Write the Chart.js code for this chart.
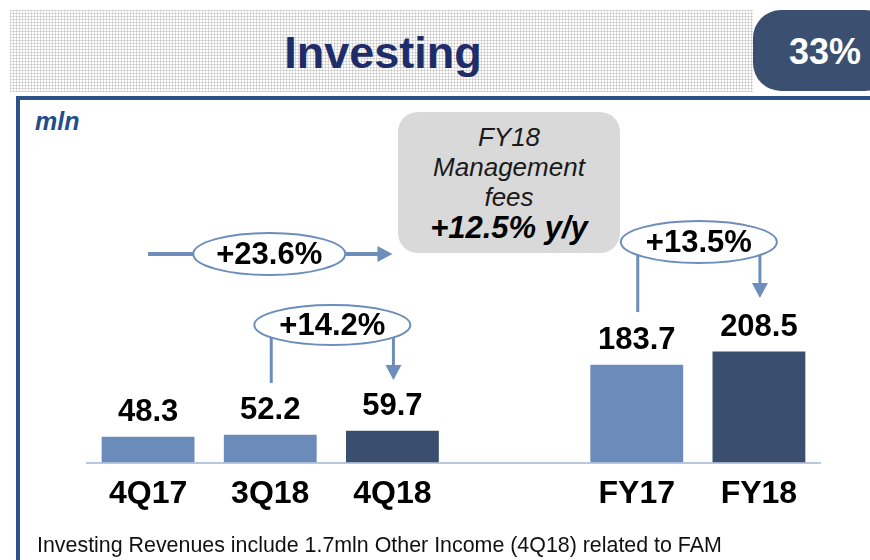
<!DOCTYPE html>
<html>
<head>
<meta charset="utf-8">
<script src="https://cdn.jsdelivr.net/npm/chart.js@4/dist/chart.umd.min.js"></script>
<style>
  html, body { margin: 0; padding: 0; background: #fff; }
  body { width: 870px; height: 560px; position: relative; overflow: hidden; font-family: "Liberation Sans", Arial, sans-serif; }
  #header {
    position: absolute; left: 10px; top: 10px; width: 743px; height: 82px;
    background-color: #fff;
    background-image:
      repeating-linear-gradient(0deg, rgba(170,170,170,0.4) 0 1px, transparent 1px 3px),
      repeating-linear-gradient(90deg, rgba(170,170,170,0.4) 0 1px, transparent 1px 3px);
  }
  #title {
    position: absolute; left: 10px; top: 12px; width: 746px; height: 82px;
    line-height: 82px; text-align: center; font-weight: bold; font-size: 45px; color: #1f2c6a;
  }
  #badge {
    position: absolute; left: 753px; top: 10px; width: 140px; height: 81px; border-radius: 28px;
    background: #3b5070; color: #fff; font-weight: bold; font-size: 36px; line-height: 83px;
  }
  #badge span { position: absolute; left: 36px; }
  #frameTop { position: absolute; left: 16px; top: 96px; width: 860px; height: 4px; background: #2c5288; }
  #frameLeft { position: absolute; left: 16px; top: 96px; width: 4px; height: 470px; background: #2c5288; }
  #mln { position: absolute; left: 35px; top: 107px; font-weight: bold; font-style: italic; font-size: 25px; color: #1f4e8c; }
  #note { position: absolute; left: 37px; top: 533px; font-size: 21.4px; color: #111; white-space: nowrap; }
  #gbox {
    position: absolute; left: 398px; top: 112px; width: 222px; height: 141px; border-radius: 20px;
    background: #d9d9d9; text-align: center; color: #1a1a1a;
  }
  #gbox .l { font-style: italic; font-size: 26px; line-height: 30px; }
  #gbox .b { font-style: italic; font-weight: bold; font-size: 31px; line-height: 32px; color: #000; }
  canvas { position: absolute; left: 0; top: 0; }
</style>
</head>
<body>
<div id="header"></div>
<div id="title">Investing</div>
<div id="badge"><span>33%</span></div>
<div id="frameTop"></div>
<div id="frameLeft"></div>
<div id="mln">mln</div>
<canvas id="c" width="870" height="560"></canvas>
<div id="gbox"><div style="height:10px"></div><div class="l">FY18</div><div class="l">Management</div><div class="l">fees</div><div class="b">+12.5% y/y</div></div>
<div id="note">Investing Revenues include 1.7mln Other Income (4Q18) related to FAM</div>
<script>
const categories = ['4Q17', '3Q18', '4Q18', '', 'FY17', 'FY18'];
const revenues = [48.3, 52.2, 59.7, null, 183.7, 208.5];
const valueLabels = ['48.3', '52.2', '59.7', '', '183.7', '208.5'];
const barColors = ['#6b8cba', '#6b8cba', '#3a4f6f', '#ffffff', '#6b8cba', '#3a4f6f'];
const changeLabels = ['+23.6%', '+14.2%', '+13.5%'];

const LINE = '#6d8ebb';

function ellipse(ctx, cx, cy, rx, ry, text) {
  ctx.save();
  ctx.beginPath();
  ctx.ellipse(cx, cy, rx, ry, 0, 0, Math.PI * 2);
  ctx.fillStyle = '#fff';
  ctx.fill();
  ctx.lineWidth = 2;
  ctx.strokeStyle = LINE;
  ctx.stroke();
  ctx.fillStyle = '#000';
  ctx.font = 'bold 31px "Liberation Sans", Arial, sans-serif';
  ctx.textAlign = 'center';
  ctx.textBaseline = 'middle';
  ctx.fillText(text, cx, cy + 1);
  ctx.restore();
}
function vline(ctx, x, y1, y2, w) {
  ctx.save();
  ctx.strokeStyle = LINE; ctx.lineWidth = w;
  ctx.beginPath(); ctx.moveTo(x, y1); ctx.lineTo(x, y2); ctx.stroke();
  ctx.restore();
}
function downArrow(ctx, x, y1, tip) {
  vline(ctx, x, y1, tip - 13, 3);
  ctx.save();
  ctx.fillStyle = LINE;
  ctx.beginPath(); ctx.moveTo(x - 8, tip - 15); ctx.lineTo(x + 8, tip - 15); ctx.lineTo(x, tip); ctx.closePath(); ctx.fill();
  ctx.restore();
}

const overlay = {
  id: 'overlay',
  afterDatasetsDraw(chart) {
    const ctx = chart.ctx;
    const meta = chart.getDatasetMeta(0);
    ctx.save();
    ctx.font = 'bold 31px "Liberation Sans", Arial, sans-serif';
    ctx.fillStyle = '#000';
    ctx.textAlign = 'center';
    ctx.textBaseline = 'middle';
    meta.data.forEach((bar, i) => {
      if (revenues[i] == null) return;
      ctx.fillText(valueLabels[i], bar.x, bar.y - 24);
    });
    ctx.restore();

    const x = i => meta.data[i].x;
    // +23.6% : 4Q17 -> 4Q18
    const y0 = 254;
    ctx.save();
    ctx.strokeStyle = LINE; ctx.lineWidth = 4;
    ctx.beginPath(); ctx.moveTo(x(0), y0); ctx.lineTo(x(2) - 13, y0); ctx.stroke();
    ctx.fillStyle = LINE;
    ctx.beginPath(); ctx.moveTo(x(2) - 15, y0 - 8); ctx.lineTo(x(2) - 15, y0 + 8); ctx.lineTo(x(2), y0); ctx.closePath(); ctx.fill();
    ctx.restore();
    ellipse(ctx, (x(0) + x(2)) / 2 - 1, y0, 76, 21, changeLabels[0]);

    // +14.2% : 3Q18 -> 4Q18
    const y1 = 325;
    vline(ctx, x(1) + 1, y1, 383, 3);
    downArrow(ctx, x(2) + 1, y1, 380);
    ellipse(ctx, (x(1) + x(2)) / 2 + 1, y1, 78, 20, changeLabels[1]);

    // +13.5% : FY17 -> FY18
    const y2 = 242;
    vline(ctx, x(4) + 1, y2, 312, 3);
    downArrow(ctx, x(5) + 1, y2, 298);
    ellipse(ctx, (x(4) + x(5)) / 2 + 1, y2, 78, 21, changeLabels[2]);
  }
};

new Chart(document.getElementById('c'), {
  type: 'bar',
  data: {
    labels: categories,
    datasets: [{
      data: revenues,
      backgroundColor: barColors,
      borderWidth: 0,
      categoryPercentage: 1,
      barPercentage: 0.76
    }]
  },
  options: {
    responsive: false,
    animation: false,
    layout: { padding: { left: 87, right: 50, top: 100, bottom: 43 } },
    plugins: { legend: { display: false }, tooltip: { enabled: false } },
    scales: {
      x: {
        grid: { display: false },
        border: { display: true, color: '#b9c8df', width: 2 },
        ticks: { color: '#000', font: { family: '"Liberation Sans", Arial, sans-serif', size: 32, weight: 'bold' }, padding: 4 }
      },
      y: { display: false, min: 0, max: 680 }
    }
  },
  plugins: [overlay]
});
</script>
</body>
</html>
